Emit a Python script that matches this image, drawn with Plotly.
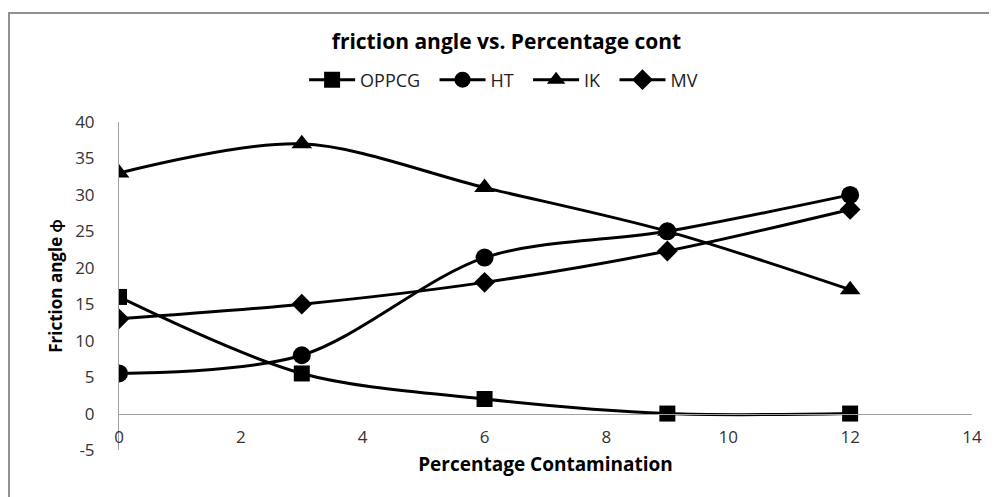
import plotly.graph_objects as go

# Percentage contamination (x) and friction angle for each soil
pct = [0, 3, 6, 9, 12]
oppcg = [16, 5.5, 2, 0, 0]
ht = [5.5, 8, 21.4, 25, 30]
ik = [33, 37, 31, 25, 17]
mv = [13, 15, 18, 22.3, 28]

y_ticks = [-5, 0, 5, 10, 15, 20, 25, 30, 35, 40]
y_ticktext = ["-5", "0", "5", "10", "15", "20", "25", "30", "35", "40"]

series = [
    ("OPPCG", oppcg, "square", 16),
    ("HT", ht, "circle", 18),
    ("IK", ik, "triangle-up", 18),
    ("MV", mv, "diamond", 16),
]

font = "'Open Sans', Lato, sans-serif"

fig = go.Figure()
for name, vals, sym, size in series:
    fig.add_trace(go.Scatter(
        x=pct, y=vals, name=name + "  ", mode="lines+markers",
        line=dict(color="black", width=3, shape="spline", smoothing=0.9),
        marker=dict(symbol=sym, size=size, color="black"),
    ))

# the page body adds an 8px offset, so margins are trimmed by 8px
fig.update_layout(
    width=997, height=497,
    margin=dict(l=111, r=33, t=114, b=55, autoexpand=False),
    paper_bgcolor="white", plot_bgcolor="white",
    font=dict(family=font, color="black", size=15),
    title=dict(text="<b>friction angle vs. Percentage cont</b>", x=0.5, xanchor="center",
               y=1 - 34 / 497, yanchor="middle", font=dict(size=21)),
    legend=dict(orientation="h", x=0.217, xanchor="left", y=(442 - 72) / 328, yanchor="middle",
                font=dict(size=18, color="#222"), tracegroupgap=0, itemwidth=46),
    showlegend=True,
)

fig.update_xaxes(
    range=[0, 14], dtick=2, tick0=0, showgrid=False, zeroline=False,
    showline=True, linecolor="#a0a0a0", linewidth=1,
    anchor="free", position=5 / 45,
    ticks="", tickfont=dict(size=17, color="#333"), ticklabelstandoff=8,
    title=dict(text="<b>Percentage Contamination</b>", font=dict(size=19), standoff=10),
)
fig.update_yaxes(
    range=[-5, 40], tickvals=y_ticks, ticktext=y_ticktext, showgrid=False, zeroline=False,
    showline=True, linecolor="#a0a0a0", linewidth=1,
    ticks="", tickfont=dict(size=17, color="#333"), ticklabelstandoff=20,
    title=dict(text="<b>Friction angle ϕ</b>", font=dict(size=17), standoff=8),
)

# outer chart frame
fig.add_shape(type="rect", xref="paper", yref="paper",
              x0=-0.129, x1=1.06, y0=-0.3, y1=1.332,
              line=dict(color="#909090", width=2), layer="below")

fig.write_html("out.html")
